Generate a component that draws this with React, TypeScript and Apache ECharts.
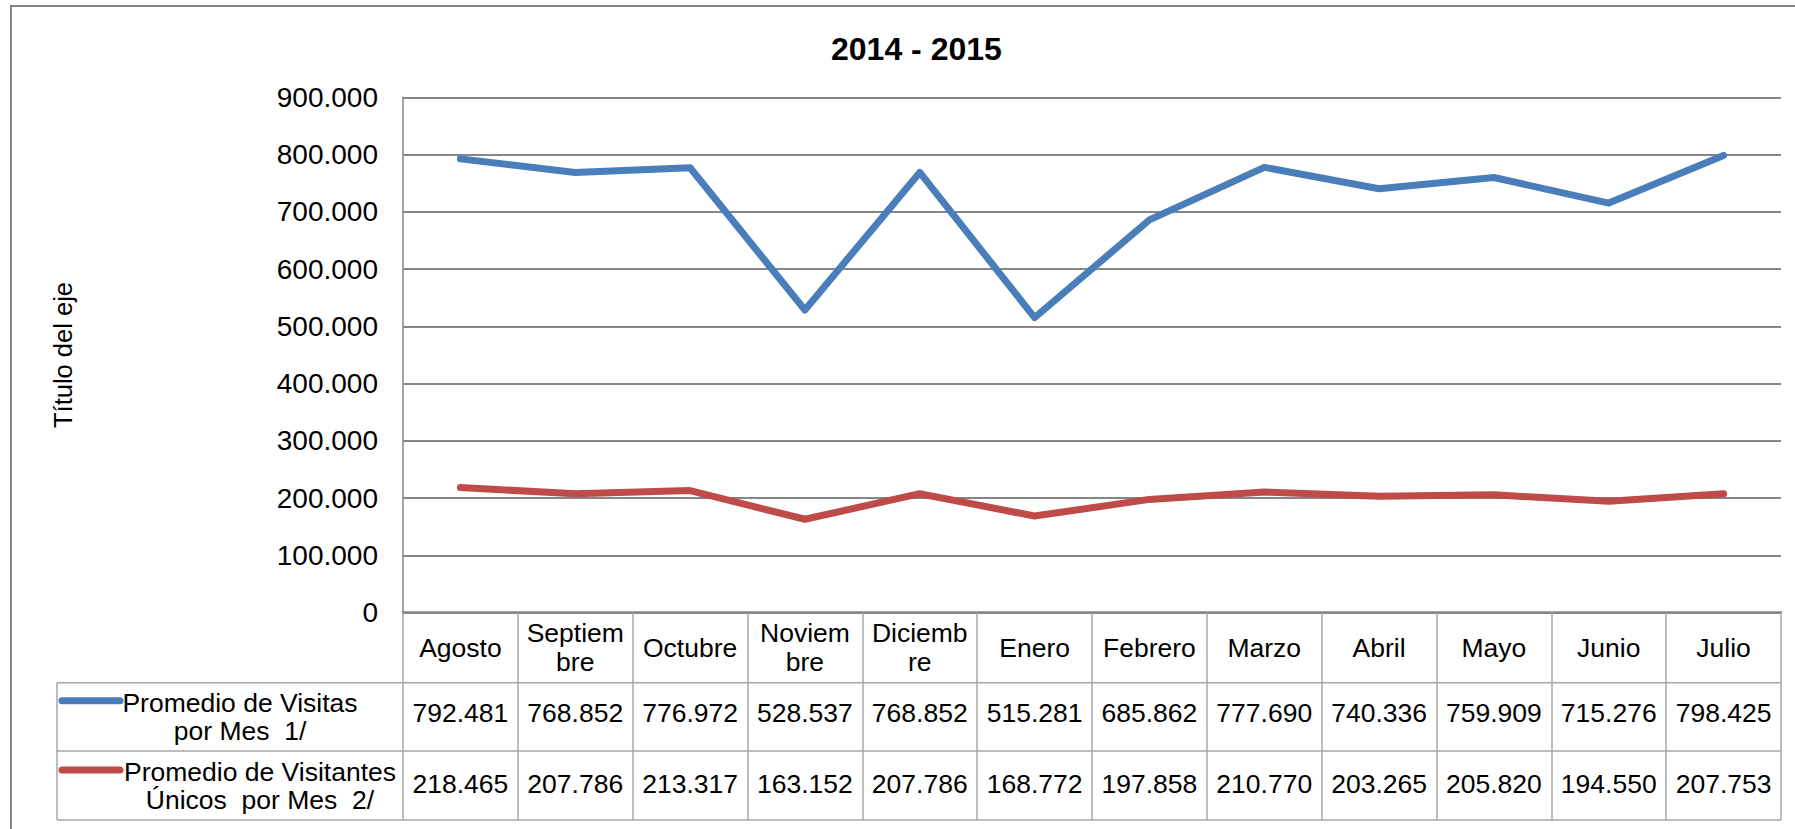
import React, { useEffect, useRef } from 'react';
import * as echarts from 'echarts';

const chartTitle = '2014 - 2015';
const yAxisTitle = 'Título del eje';
const categories = ['Agosto', 'Septiem\nbre', 'Octubre', 'Noviem\nbre', 'Diciemb\nre', 'Enero', 'Febrero', 'Marzo', 'Abril', 'Mayo', 'Junio', 'Julio'];
const seriesNames = ['Promedio de Visitas por Mes  1/', 'Promedio de Visitantes Únicos  por Mes  2/'];
const rowHeaders = ['Promedio de Visitas\npor Mes  1/', 'Promedio de Visitantes\nÚnicos  por Mes  2/'];
const visitas = [792481, 768852, 776972, 528537, 768852, 515281, 685862, 777690, 740336, 759909, 715276, 798425];
const visitantes = [218465, 207786, 213317, 163152, 207786, 168772, 197858, 210770, 203265, 205820, 194550, 207753];
const yMin = 0;
const yMax = 900000;
const yStep = 100000;

const FONT = '"Liberation Sans", Arial, sans-serif';
const BLUE = '#4A7EBB';
const RED = '#BE4B48';
const GRID_GRAY = '#868686';
const TABLE_GRAY = '#a6a6a6';

const fmt = (n: number) => String(Math.round(n)).replace(/\B(?=(\d{3})+(?!\d))/g, '.');

const PLOT_LEFT = 403;
const PLOT_RIGHT = 1781;
const PLOT_TOP = 97.3;
const PLOT_BOTTOM = 612.7;
const ROW1_BOTTOM = 682.7;
const ROW2_BOTTOM = 751;
const TABLE_BOTTOM = 820;
const TABLE_LEFT = 57;
const TABLE_FONT = 26.5;

export default function App() {
  const ref = useRef<HTMLDivElement>(null);
  useEffect(() => {
    const chart = echarts.init(ref.current!, null, { renderer: 'svg' });
    const valueAxisBase = (values: number[], margin: number) => ({
      type: 'category',
      gridIndex: 0,
      data: categories,
      position: 'bottom',
      boundaryGap: true,
      axisLine: { show: false },
      axisTick: { show: false },
      splitLine: { show: false },
      axisLabel: {
        interval: 0,
        margin,
        verticalAlign: 'middle',
        fontSize: TABLE_FONT,
        fontFamily: FONT,
        color: '#000',
        formatter: (_v: string, i: number) => fmt(values[i]),
      },
    });
    const option: any = {
      animation: false,
      backgroundColor: '#fff',
      title: {
        text: chartTitle,
        left: 826,
        top: 28,
        textStyle: { fontSize: 32, fontWeight: 'bold', fontFamily: FONT, color: '#000' },
      },
      grid: {
        left: PLOT_LEFT,
        top: PLOT_TOP,
        width: PLOT_RIGHT - PLOT_LEFT,
        height: PLOT_BOTTOM - PLOT_TOP,
        containLabel: false,
      },
      xAxis: [
        {
          type: 'category',
          gridIndex: 0,
          data: categories,
          position: 'bottom',
          boundaryGap: true,
          axisLine: { show: true, lineStyle: { color: GRID_GRAY, width: 2.5 } },
          axisTick: {
            show: true,
            interval: 0,
            length: TABLE_BOTTOM - PLOT_BOTTOM,
            lineStyle: { color: TABLE_GRAY, width: 1.5 },
          },
          axisLabel: {
            interval: 0,
            margin: (PLOT_BOTTOM + ROW1_BOTTOM) / 2 - PLOT_BOTTOM,
            verticalAlign: 'middle',
            fontSize: TABLE_FONT,
            lineHeight: 29,
            fontFamily: FONT,
            color: '#000',
          },
          splitLine: { show: false },
        },
        valueAxisBase(visitas, (ROW1_BOTTOM + ROW2_BOTTOM) / 2 - PLOT_BOTTOM - 4),
        valueAxisBase(visitantes, (ROW2_BOTTOM + TABLE_BOTTOM) / 2 - PLOT_BOTTOM - 2),
      ],
      yAxis: {
        type: 'value',
        min: yMin,
        max: yMax,
        interval: yStep,
        name: yAxisTitle,
        nameLocation: 'middle',
        nameRotate: 90,
        nameGap: PLOT_LEFT - 76,
        nameTextStyle: { fontSize: 25.5, fontFamily: FONT, color: '#000' },
        axisLine: { show: true, lineStyle: { color: GRID_GRAY, width: 1.5 } },
        axisTick: { show: false },
        axisLabel: {
          margin: 25,
          fontSize: 28,
          fontFamily: FONT,
          color: '#000',
          formatter: (v: number) => fmt(v),
        },
        splitLine: { show: true, lineStyle: { color: GRID_GRAY, width: 2 } },
      },
      series: [
        {
          name: seriesNames[0],
          type: 'line',
          xAxisIndex: 0,
          data: visitas,
          showSymbol: false,
          symbol: 'none',
          lineStyle: { color: BLUE, width: 7, cap: 'round', join: 'round' },
          itemStyle: { color: BLUE },
          z: 3,
        },
        {
          name: seriesNames[1],
          type: 'line',
          xAxisIndex: 0,
          data: visitantes,
          showSymbol: false,
          symbol: 'none',
          lineStyle: { color: RED, width: 7, cap: 'round', join: 'round' },
          itemStyle: { color: RED },
          z: 3,
        },
      ],
      graphic: [
        {
          type: 'rect',
          shape: { x: 11, y: 6, width: 1800, height: 840 },
          style: { fill: 'none', stroke: GRID_GRAY, lineWidth: 2 },
          z: 0,
          silent: true,
        },
        ...[ROW1_BOTTOM, ROW2_BOTTOM, TABLE_BOTTOM].map((y) => ({
          type: 'line',
          shape: { x1: TABLE_LEFT, y1: y, x2: PLOT_RIGHT, y2: y },
          style: { stroke: TABLE_GRAY, lineWidth: 1.5 },
          silent: true,
        })),
        {
          type: 'line',
          shape: { x1: TABLE_LEFT, y1: ROW1_BOTTOM, x2: TABLE_LEFT, y2: TABLE_BOTTOM },
          style: { stroke: TABLE_GRAY, lineWidth: 1.5 },
          silent: true,
        },
        {
          type: 'line',
          shape: { x1: 62, y1: 700.7, x2: 120, y2: 700.7 },
          style: { stroke: BLUE, lineWidth: 7, lineCap: 'round' },
          silent: true,
        },
        {
          type: 'line',
          shape: { x1: 62, y1: 770, x2: 120, y2: 770 },
          style: { stroke: RED, lineWidth: 7, lineCap: 'round' },
          silent: true,
        },
        {
          type: 'text',
          x: 240,
          y: (ROW1_BOTTOM + ROW2_BOTTOM) / 2,
          style: {
            text: rowHeaders[0],
            fontSize: TABLE_FONT,
            lineHeight: 28,
            fontFamily: FONT,
            fill: '#000',
            align: 'center',
            verticalAlign: 'middle',
          },
          silent: true,
        },
        {
          type: 'text',
          x: 260,
          y: (ROW2_BOTTOM + TABLE_BOTTOM) / 2,
          style: {
            text: rowHeaders[1],
            fontSize: TABLE_FONT,
            lineHeight: 28,
            fontFamily: FONT,
            fill: '#000',
            align: 'center',
            verticalAlign: 'middle',
          },
          silent: true,
        },
      ],
    };
    chart.setOption(option);
    return () => chart.dispose();
  }, []);
  return (
    <div
      ref={ref}
      style={{ position: 'fixed', left: 0, top: 0, width: 1795, height: 829, background: '#fff' }}
    />
  );
}
